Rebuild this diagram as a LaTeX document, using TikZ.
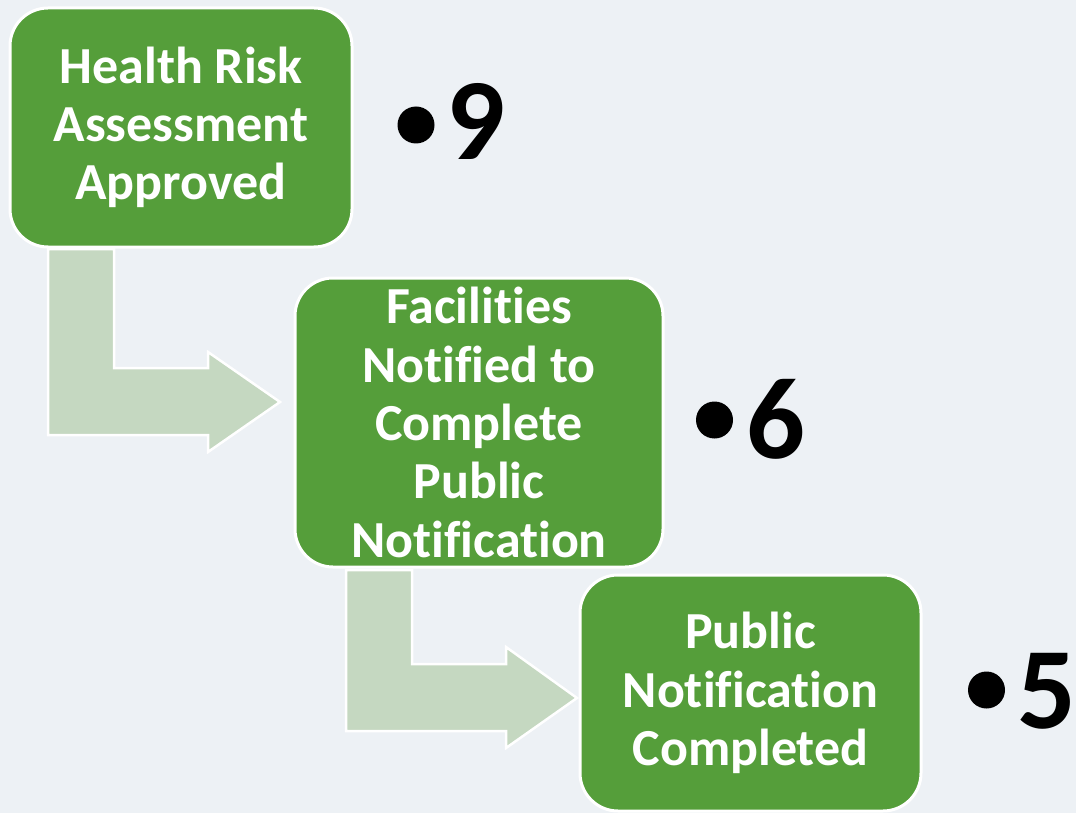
\documentclass[tikz,border=0pt]{standalone}
\usepackage{fontspec}
\setmainfont[Ligatures={NoCommon}]{Carlito}
\definecolor{bgc}{HTML}{EDF1F5}
\definecolor{boxgreen}{HTML}{559E3A}
\definecolor{arrowgreen}{HTML}{C5D8C1}
\tikzset{
  stepbox/.style={rectangle, rounded corners=38pt, fill=boxgreen, draw=white, line width=3pt,
    text=white, align=center, font=\bfseries\fontsize{52}{58.3}\selectfont, inner sep=0pt},
  bentarrow/.style={fill=arrowgreen, draw=white, line width=2.5pt, line join=miter},
  bulletdot/.style={circle, fill=black, inner sep=0pt, minimum size=37pt},
  countnum/.style={anchor=base, inner sep=0pt, font=\bfseries\fontsize{116}{120}\selectfont, text=black}
}
\begin{document}
\begin{tikzpicture}[x=1pt,y=-1pt]
\fill[bgc] (0,0) rectangle (1076,813);
\useasboundingbox (0,0) rectangle (1076,813);
% bent arrows
\draw[bentarrow] (48,249) -- (114,249) -- (114,368) -- (208,368) -- (208,352) -- (280,402)
  -- (208,452) -- (208,435) -- (48,435) -- cycle;
\draw[bentarrow] (346,570) -- (412,570) -- (412,664) -- (506,664) -- (506,647) -- (577,698)
  -- (506,748) -- (506,731) -- (346,731) -- cycle;
% boxes
\node[stepbox, minimum width=342pt, minimum height=239pt] (b1) at (181,127.5)
  {Health Risk\\Assessment\\Approved};
\node[stepbox, minimum width=368pt, minimum height=289pt] (b2) at (479,422.5)
  {Facilities\\Notified to\\Complete\\Public\\Notification};
\node[stepbox, minimum width=341pt, minimum height=236pt] (b3) at (750.5,693)
  {Public\\Notification\\Completed};
% counts
\node[bulletdot] (d1) at (416,125) {};
\node[countnum] (n1) at (476,160) {9};
\node[bulletdot] (d2) at (714.5,420) {};
\node[countnum] (n2) at (776,458) {6};
\node[bulletdot] (d3) at (986.5,690) {};
\node[countnum] (n3) at (1046.5,728) {5};
\end{tikzpicture}
\end{document}
